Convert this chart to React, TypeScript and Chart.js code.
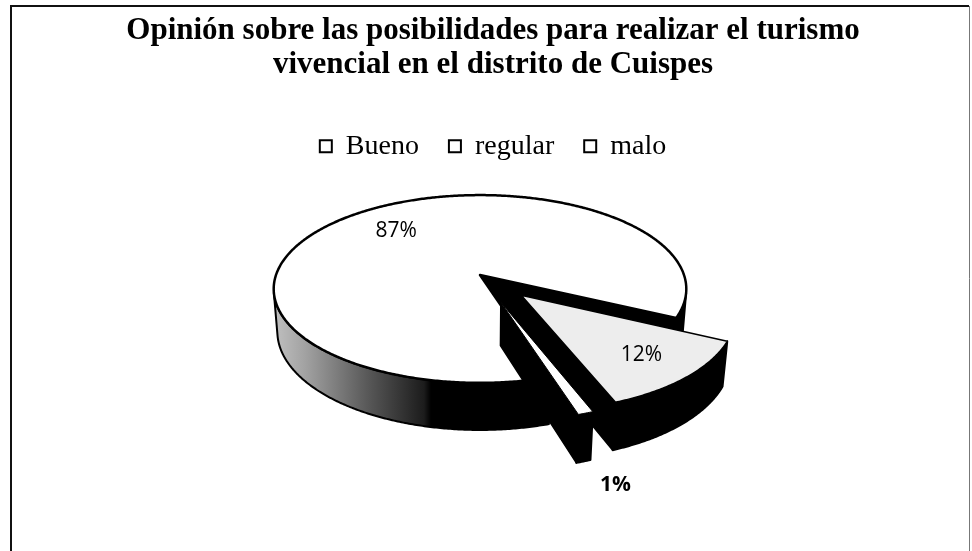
import React, { useEffect, useRef } from "react";
import { Chart, registerables } from "chart.js";

Chart.register(...registerables);

// ---------------- data ----------------
const TITLE_LINES = [
  "Opinión sobre las posibilidades para realizar el turismo",
  "vivencial en el distrito de Cuispes",
];
const CATEGORIES = ["Bueno", "regular", "malo"];
const VALUES = [87, 12, 1];

// ---------------- style ----------------
const TOP_FILLS = ["#ffffff", "#ededed", "#ffffff"];
const TOP_STROKE = [2.5, 1.5, 1];
const EXPLODE = [0, 0.29, 0.3]; // in pie radii
const LABEL_BOLD = [false, false, true];
const FIRST_SLICE_ANGLE = 162.8;
const SERIF = "'Liberation Serif', 'Times New Roman', serif";

// perspective projection constants
const CX = 480;
const CY = 275;
const FOCAL = 1224;
const DIST = 6;
const SIN_T = 0.45;
const COS_T = 0.893;
const DEPTH = 0.235;

type Slice = { i: number; a: number; b: number; mid: number; ox: number; oy: number };

const pie3d = {
  id: "pie3d",
  beforeDraw(chart: any) {
    const ctx = chart.ctx as CanvasRenderingContext2D;
    ctx.save();
    ctx.fillStyle = "#ffffff";
    ctx.fillRect(0, 0, chart.width, chart.height);
    ctx.strokeStyle = "#111";
    ctx.lineWidth = 2;
    ctx.beginPath();
    ctx.moveTo(11, chart.height);
    ctx.lineTo(11, 6);
    ctx.lineTo(chart.width - 3, 6);
    ctx.stroke();
    ctx.strokeStyle = "#777";
    ctx.lineWidth = 1;
    ctx.beginPath();
    ctx.moveTo(chart.width - 2.5, 6);
    ctx.lineTo(chart.width - 2.5, chart.height);
    ctx.stroke();
    ctx.restore();
  },
  afterDatasetsDraw(chart: any) {
    const ctx = chart.ctx as CanvasRenderingContext2D;
    const meta = chart.getDatasetMeta(0);
    const proj = (X: number, Y: number, H: number): [number, number] => {
      const yc = Y * SIN_T + H * COS_T;
      const zc = DIST + Y * COS_T - H * SIN_T;
      return [CX + (FOCAL * X) / zc, CY - (FOCAL * yc) / zc];
    };
    const camY = -DIST * COS_T;

    const slices: Slice[] = meta.data.map((arc: any, i: number) => {
      const p = arc.getProps(["startAngle", "endAngle"], true);
      const a = p.startAngle + Math.PI / 2;
      const b = p.endAngle + Math.PI / 2;
      const mid = (a + b) / 2;
      const ex = EXPLODE[i] || 0;
      return { i, a, b, mid, ox: ex * Math.sin(mid), oy: ex * Math.cos(mid) };
    });

    const centroidY = (s: Slice) => s.oy + 0.5 * Math.cos(s.mid) * (s.b - s.a < Math.PI ? 1 : 0.4);
    const order = [...slices].sort((s1, s2) => centroidY(s2) - centroidY(s1));

    const rimPts = (s: Slice, t0: number, t1: number, H: number) => {
      const n = Math.max(2, Math.ceil(Math.abs(t1 - t0) / (Math.PI / 360)));
      const pts: [number, number][] = [];
      for (let k = 0; k <= n; k++) {
        const t = t0 + ((t1 - t0) * k) / n;
        pts.push(proj(s.ox + Math.sin(t), s.oy + Math.cos(t), H));
      }
      return pts;
    };

    const poly = (pts: [number, number][]) => {
      ctx.beginPath();
      pts.forEach((p, k) => (k === 0 ? ctx.moveTo(p[0], p[1]) : ctx.lineTo(p[0], p[1])));
      ctx.closePath();
    };

    ctx.save();
    ctx.lineJoin = "round";
    for (const s of order) {
      // outer wall visible runs
      const steps = Math.max(2, Math.ceil((s.b - s.a) / (Math.PI / 360)));
      const runs: [number, number][] = [];
      let runStart: number | null = null;
      let prevT = s.a;
      for (let k = 0; k <= steps; k++) {
        const t = s.a + ((s.b - s.a) * k) / steps;
        const px = s.ox + Math.sin(t);
        const py = s.oy + Math.cos(t);
        const dot = Math.sin(t) * -px + Math.cos(t) * (camY - py);
        if (dot > 0) {
          if (runStart === null) runStart = t;
        } else if (runStart !== null) {
          runs.push([runStart, prevT]);
          runStart = null;
        }
        prevT = t;
      }
      if (runStart !== null) runs.push([runStart, s.b]);

      for (const [t0, t1] of runs) {
        const top = rimPts(s, t0, t1, 0);
        const bot = rimPts(s, t1, t0, -DEPTH);
        poly([...top, ...bot]);
        if (s.i === 0) {
          const g = ctx.createLinearGradient(270, 0, 445, 0);
          g.addColorStop(0, "#c4c4c4");
          g.addColorStop(0.2, "#a2a2a2");
          g.addColorStop(0.55, "#5a5a5a");
          g.addColorStop(0.88, "#1c1c1c");
          g.addColorStop(0.92, "#000000");
          g.addColorStop(1, "#000000");
          ctx.fillStyle = g;
        } else {
          ctx.fillStyle = "#000";
        }
        ctx.fill();
        ctx.strokeStyle = "#000";
        ctx.lineWidth = 2;
        ctx.stroke();
      }

      // radial walls
      const walls: [number, number][] = [
        [s.a, s.a - Math.PI / 2],
        [s.b, s.b + Math.PI / 2],
      ];
      for (const [t, nAng] of walls) {
        const mx = s.ox + 0.5 * Math.sin(t);
        const my = s.oy + 0.5 * Math.cos(t);
        const dot = Math.sin(nAng) * -mx + Math.cos(nAng) * (camY - my);
        if (dot <= 0) continue;
        const pts: [number, number][] = [
          proj(s.ox, s.oy, 0),
          proj(s.ox + Math.sin(t), s.oy + Math.cos(t), 0),
          proj(s.ox + Math.sin(t), s.oy + Math.cos(t), -DEPTH),
          proj(s.ox, s.oy, -DEPTH),
        ];
        poly(pts);
        ctx.fillStyle = "#000";
        ctx.fill();
        ctx.strokeStyle = "#000";
        ctx.lineWidth = 1.5;
        ctx.stroke();
      }

      // top face
      const topPts = [proj(s.ox, s.oy, 0), ...rimPts(s, s.a, s.b, 0)];
      poly(topPts);
      ctx.fillStyle = TOP_FILLS[s.i];
      ctx.fill();
      ctx.strokeStyle = "#000";
      ctx.lineWidth = TOP_STROKE[s.i];
      ctx.stroke();
    }

    // labels
    const total = VALUES.reduce((x, y) => x + y, 0);
    ctx.fillStyle = "#000";
    ctx.textAlign = "center";
    ctx.textBaseline = "middle";
    for (const s of slices) {
      const txt = Math.round((VALUES[s.i] / total) * 100) + "%";
      let pos: [number, number];
      if (s.b - s.a < 0.2) {
        const p = proj(s.ox + Math.sin(s.mid), s.oy + Math.cos(s.mid), -DEPTH);
        pos = [p[0] + 32, p[1] + 24];
      } else {
        const r = s.b - s.a > Math.PI ? 0.68 : 0.75;
        pos = proj(s.ox + r * Math.sin(s.mid), s.oy + r * Math.cos(s.mid), 0);
      }
      ctx.font = `${LABEL_BOLD[s.i] ? "bold " : ""}21px 'Open Sans', sans-serif`;
      ctx.fillText(txt, pos[0], pos[1]);
    }
    ctx.restore();
  },
};

export default function App() {
  const ref = useRef<HTMLCanvasElement | null>(null);
  useEffect(() => {
    if (!ref.current) return;
    const chart = new Chart(ref.current, {
      type: "pie",
      data: {
        labels: CATEGORIES,
        datasets: [
          {
            data: VALUES,
            backgroundColor: "rgba(0,0,0,0)",
            borderWidth: 0,
          },
        ],
      },
      options: {
        responsive: false,
        animation: false,
        events: [],
        rotation: FIRST_SLICE_ANGLE,
        layout: { padding: { top: 0, bottom: 0, left: 14, right: 0 } },
        plugins: {
          tooltip: { enabled: false },
          title: {
            display: true,
            text: TITLE_LINES,
            color: "#000",
            font: { family: SERIF, size: 31, weight: "bold", lineHeight: 1.1 },
            padding: { top: 14, bottom: 20 },
          },
          legend: {
            display: true,
            position: "top",
            labels: {
              color: "#000",
              boxWidth: 12,
              boxHeight: 12,
              padding: 30,
              font: { family: SERIF, size: 28 },
              generateLabels: () =>
                CATEGORIES.map((c, i) => ({
                  text: c,
                  fillStyle: "#ffffff",
                  strokeStyle: "#000000",
                  lineWidth: 2,
                  hidden: false,
                  index: i,
                  fontColor: "#000",
                })),
            },
          },
        },
      } as any,
      plugins: [pie3d],
    });
    return () => chart.destroy();
  }, []);
  return (
    <div style={{ position: "fixed", left: 0, top: 0, width: 972, height: 551 }}>
      <canvas ref={ref} width={972} height={551} style={{ display: "block" }} />
    </div>
  );
}
